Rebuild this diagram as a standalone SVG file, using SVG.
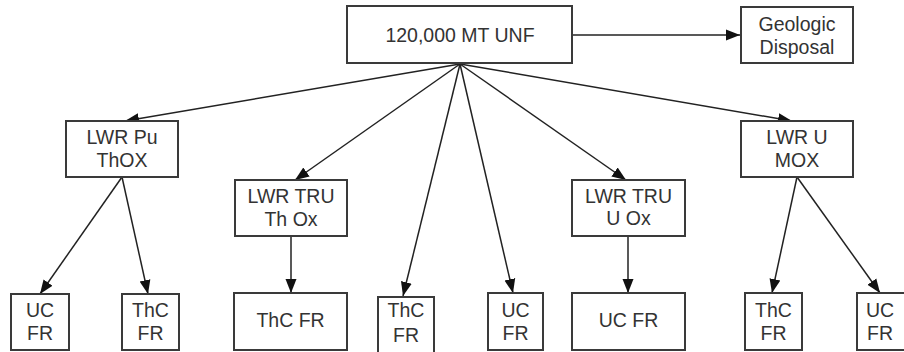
<svg xmlns="http://www.w3.org/2000/svg" width="904" height="352" viewBox="0 0 904 352">
<defs>
<marker id="ah" markerUnits="userSpaceOnUse" markerWidth="15" markerHeight="12" viewBox="0 0 15 12" refX="14" refY="6" orient="auto">
<path d="M0,0.5 L14,6 L0,11.5 z" fill="#111"/>
</marker>
<style>
.box{fill:#fff;stroke:#3a3a3a;stroke-width:2}
.t{font-family:"Liberation Sans",Arial,sans-serif;font-size:19.5px;fill:#333;text-anchor:middle}
.c{fill:none;stroke:#222;stroke-width:1.5;marker-end:url(#ah)}
</style>
</defs>
<rect width="904" height="352" fill="#fff"/>
<g id="connectors">
<line class="c" x1="572" y1="35" x2="740" y2="35"/>
<line class="c" x1="460" y1="64" x2="125" y2="121"/>
<line class="c" x1="460" y1="64" x2="295" y2="180"/>
<line class="c" x1="460" y1="64" x2="403" y2="296"/>
<line class="c" x1="460" y1="64" x2="513" y2="293"/>
<line class="c" x1="460" y1="64" x2="626" y2="180"/>
<line class="c" x1="460" y1="64" x2="792" y2="121"/>
<line class="c" x1="122" y1="177" x2="40" y2="294"/>
<line class="c" x1="122" y1="177" x2="148" y2="294"/>
<line class="c" x1="291" y1="236" x2="291" y2="293"/>
<line class="c" x1="628" y1="236" x2="628" y2="293"/>
<line class="c" x1="797" y1="177" x2="772" y2="293"/>
<line class="c" x1="797" y1="177" x2="880" y2="293"/>
</g>
<g id="unf"><rect class="box" x="347" y="6" width="225" height="57"/><text class="t" x="460" y="42">120,000 MT UNF</text></g>
<g id="geologic"><rect class="box" x="741" y="7" width="112" height="56"/><text class="t" x="797" y="30.5">Geologic</text><text class="t" x="797" y="53.5">Disposal</text></g>
<g id="lwr-pu-thox"><rect class="box" x="66" y="121" width="112" height="56"/><text class="t" x="122" y="144">LWR Pu</text><text class="t" x="122" y="167">ThOX</text></g>
<g id="lwr-tru-thox"><rect class="box" x="235" y="180" width="112" height="56"/><text class="t" x="291" y="203">LWR TRU</text><text class="t" x="291" y="226">Th Ox</text></g>
<g id="lwr-tru-uox"><rect class="box" x="572" y="180" width="113" height="56"/><text class="t" x="628.5" y="203">LWR TRU</text><text class="t" x="628.5" y="225">U Ox</text></g>
<g id="lwr-u-mox"><rect class="box" x="741" y="121" width="112" height="56"/><text class="t" x="797" y="144">LWR U</text><text class="t" x="797" y="167">MOX</text></g>
<g id="uc1"><rect class="box" x="11" y="294" width="58" height="56"/><text class="t" x="40" y="317">UC</text><text class="t" x="40" y="340">FR</text></g>
<g id="thc1"><rect class="box" x="122" y="294" width="57" height="56"/><text class="t" x="150.5" y="317">ThC</text><text class="t" x="150.5" y="340">FR</text></g>
<g id="thc2"><rect class="box" x="234" y="293" width="113" height="57"/><text class="t" x="290.5" y="327">ThC FR</text></g>
<g id="thc3"><rect class="box" x="378" y="297" width="56" height="56"/><text class="t" x="406" y="317">ThC</text><text class="t" x="406" y="342">FR</text></g>
<g id="uc2"><rect class="box" x="488" y="293" width="55" height="57"/><text class="t" x="515.5" y="316.5">UC</text><text class="t" x="515.5" y="340">FR</text></g>
<g id="uc3"><rect class="box" x="572" y="293" width="113" height="57"/><text class="t" x="628.5" y="327">UC FR</text></g>
<g id="thc4"><rect class="box" x="745" y="293" width="57" height="57"/><text class="t" x="773.5" y="316.5">ThC</text><text class="t" x="773.5" y="340">FR</text></g>
<g id="uc4"><rect class="box" x="857" y="293" width="57" height="57"/><text class="t" x="880" y="316.5">UC</text><text class="t" x="880" y="340">FR</text></g>
</svg>
